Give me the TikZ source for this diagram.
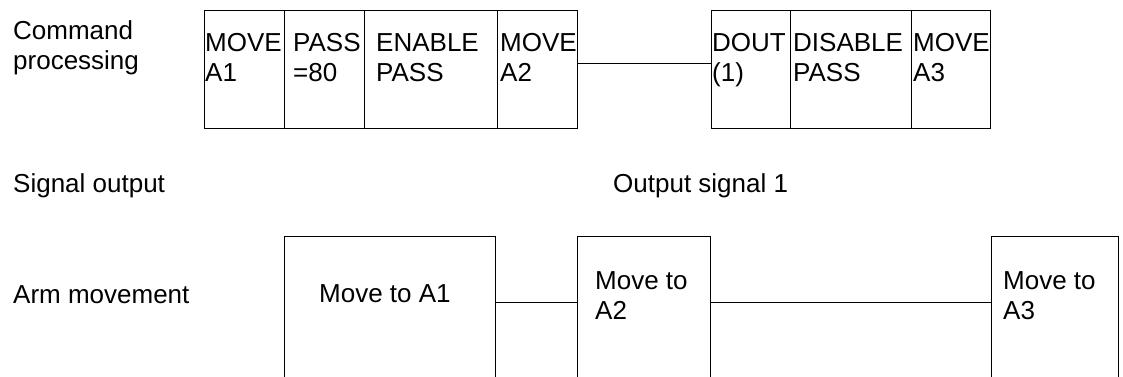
\documentclass[tikz,border=0pt]{standalone}
\usepackage{fontspec}
\setmainfont{Liberation Sans}
% two lines of text, baseline on the first line
\newcommand\twolines[2]{\begin{tabular}[t]{@{}l@{}}#1\\#2\end{tabular}}
\begin{document}
\begin{tikzpicture}[x=1pt,y=-1pt,
  cell/.style={draw, line width=1.4pt, inner sep=0pt, anchor=north west},
  lbl/.style={inner sep=0pt, anchor=base west, font=\fontsize{26}{30}\selectfont},
  link/.style={line width=1.4pt}]
\useasboundingbox (0,0) rectangle (1123,376);
\clip (0,0) rectangle (1123,376);

% row labels
\node[lbl] (lcmd) at (13,39) {\twolines{Command}{processing}};
\node[lbl] (lsig) at (13,192) {Signal output};
\node[lbl] (larm) at (13,303) {Arm movement};

% command processing cells
\node[cell, minimum width=80pt,  minimum height=118pt] (c1) at (204,10) {};
\node[cell, minimum width=80pt,  minimum height=118pt] (c2) at (284,10) {};
\node[cell, minimum width=133pt, minimum height=118pt] (c3) at (364,10) {};
\node[cell, minimum width=80pt,  minimum height=118pt] (c4) at (497,10) {};
\node[cell, minimum width=79pt,  minimum height=118pt] (c5) at (711,10) {};
\node[cell, minimum width=121pt, minimum height=118pt] (c6) at (790,10) {};
\node[cell, minimum width=79pt,  minimum height=118pt] (c7) at (911,10) {};

\node[lbl] (t1) at (205,51) {\twolines{MOVE}{A1}};
\node[lbl] (t2) at (293,51) {\twolines{PASS}{=80}};
\node[lbl] (t3) at (376,51) {\twolines{ENABLE}{PASS}};
\node[lbl] (t4) at (500,51) {\twolines{MOVE}{A2}};
\node[lbl] (t5) at (712,51) {\twolines{DOUT}{(1)}};
\node[lbl] (t6) at (793,51) {\twolines{DISABLE}{PASS}};
\node[lbl] (t7) at (913,51) {\twolines{MOVE}{A3}};

\draw[link] ([yshift=6pt]c4.east) -- ([yshift=6pt]c5.west);

% signal output
\node[lbl] (sig1) at (613,192) {Output signal 1};

% arm movement boxes
\node[cell, minimum width=211pt, minimum height=150pt] (b1) at (284,236) {};
\node[cell, minimum width=133pt, minimum height=150pt] (b2) at (577,236) {};
\node[cell, minimum width=127pt, minimum height=150pt] (b3) at (991,236) {};

\node[lbl] (m1) at (319,302) {Move to A1};
\node[lbl] (m2) at (595,289) {\twolines{Move to}{A2}};
\node[lbl] (m3) at (1003,289) {\twolines{Move to}{A3}};

\draw[link] ([yshift=9pt]b1.east) -- ([yshift=9pt]b2.west);
\draw[link] ([yshift=9pt]b2.east) -- ([yshift=9pt]b3.west);
\end{tikzpicture}
\end{document}
